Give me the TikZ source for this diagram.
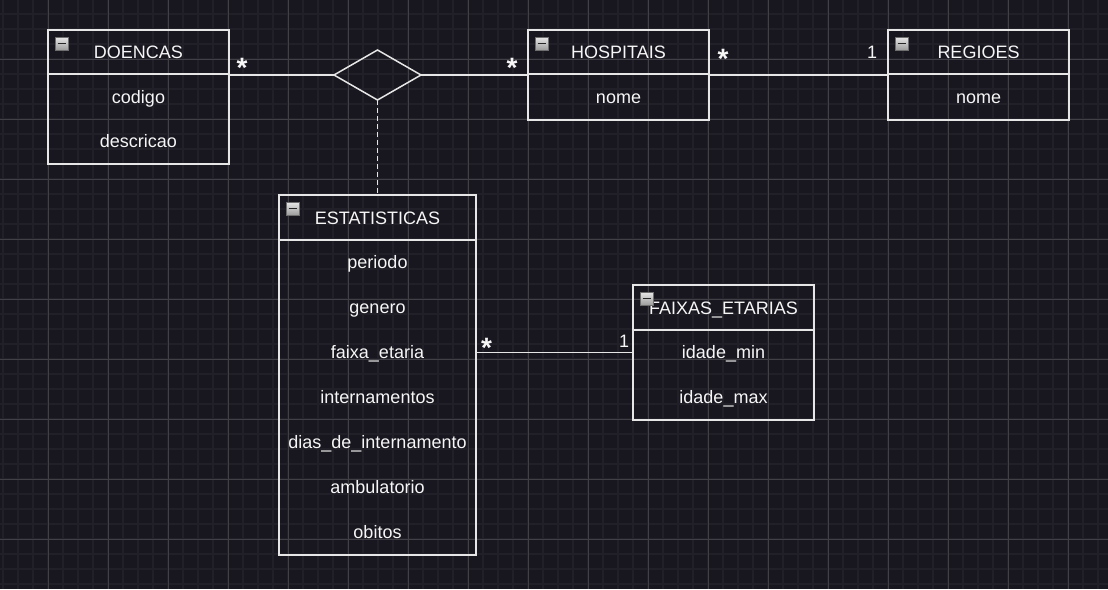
\documentclass[tikz,border=0pt]{standalone}
\usepackage{fontspec}
\setmainfont{Liberation Sans}
\usetikzlibrary{shapes.geometric}
\definecolor{bg}{HTML}{18161E}
\definecolor{gmin}{HTML}{211F27}
\definecolor{gmaj}{HTML}{424047}
\definecolor{ln}{HTML}{E6E6E6}
\definecolor{txt}{HTML}{F6F6F6}
\definecolor{icA}{HTML}{E8E8E8}
\definecolor{icB}{HTML}{9C9C9C}
\definecolor{icD}{HTML}{6E6E6E}
\begin{document}
\begin{tikzpicture}[x=1pt,y=-1pt,
  umlbox/.style={draw=ln,line width=1.6pt,rectangle,inner sep=0pt,outer sep=0pt,anchor=north west},
  hdrline/.style={draw=ln,line width=1.6pt},
  ttl/.style={anchor=base,inner sep=0pt,text=txt,font=\fontsize{18}{20}\selectfont},
  attr/.style={anchor=base,inner sep=0pt,text=txt,font=\fontsize{18}{20}\selectfont},
  mult/.style={anchor=base,inner sep=0pt,text=txt,font=\fontsize{18}{20}\selectfont},
  star/.style={anchor=base,inner sep=0pt,text=txt,font=\bfseries\fontsize{28}{30}\selectfont},
  conn/.style={draw=ln,line width=1.5pt},
  dashconn/.style={draw=ln,line width=1.5pt,dash pattern=on 5pt off 3pt},
  relshape/.style={draw=ln,line width=1.5pt,diamond,inner sep=0pt,outer sep=0pt,minimum width=87pt,minimum height=50pt,aspect=1.74},
  iconbox/.style={draw=icD,line width=0.8pt,top color=icA,bottom color=icB}
]
\fill[bg] (0,0) rectangle (1108,589);
\useasboundingbox (0,0) rectangle (1108,589);
% grid
\foreach \x in {3,18,...,1108} \draw[gmin,line width=2pt] (\x,0) -- (\x,589);
\foreach \y in {14,29,...,589} \draw[gmin,line width=2pt] (0,\y) -- (1108,\y);
\foreach \x in {48,108,...,1108} \draw[gmaj,line width=1pt] (\x,0) -- (\x,589);
\foreach \y in {59,119,...,589} \draw[gmaj,line width=1pt] (0,\y) -- (1108,\y);

% DOENCAS
\node[umlbox,minimum width=181pt,minimum height=134pt] (doencas) at (48,30) {};
\draw[hdrline] (48,74) -- (229,74);
\node[ttl] (doencasT) at (138.5,58) {DOENCAS};
\node[attr] (doencasA1) at (138.5,103) {codigo};
\node[attr] (doencasA2) at (138.5,147.5) {descricao};

% HOSPITAIS
\node[umlbox,minimum width=181pt,minimum height=90pt] (hosp) at (528,30) {};
\draw[hdrline] (528,74) -- (709,74);
\node[ttl] (hospT) at (618.5,58) {HOSPITAIS};
\node[attr] (hospA1) at (618.5,103) {nome};

% REGIOES
\node[umlbox,minimum width=181pt,minimum height=90pt] (reg) at (888,30) {};
\draw[hdrline] (888,74) -- (1069,74);
\node[ttl] (regT) at (978.5,58) {REGIOES};
\node[attr] (regA1) at (978.5,103) {nome};

% ESTATISTICAS
\node[umlbox,minimum width=197pt,minimum height=360pt] (estat) at (279,195) {};
\draw[hdrline] (279,240) -- (476,240);
\node[ttl] (estatT) at (377.5,224) {ESTATISTICAS};
\node[attr] (estatA1) at (377.5,268.5) {periodo};
\node[attr] (estatA2) at (377.5,313.5) {genero};
\node[attr] (estatA3) at (377.5,358.5) {faixa\_etaria};
\node[attr] (estatA4) at (377.5,403.5) {internamentos};
\node[attr] (estatA5) at (377.5,448.5) {dias\_de\_internamento};
\node[attr] (estatA6) at (377.5,493.5) {ambulatorio};
\node[attr] (estatA7) at (377.5,538.5) {obitos};

% FAIXAS_ETARIAS
\node[umlbox,minimum width=181pt,minimum height=135pt] (faixas) at (633,285) {};
\draw[hdrline] (633,330) -- (814,330);
\node[ttl] (faixasT) at (723.5,314) {FAIXAS\_ETARIAS};
\node[attr] (faixasA1) at (723.5,358.5) {idade\_min};
\node[attr] (faixasA2) at (723.5,403.5) {idade\_max};

% icons
\foreach \ix/\iy in {55/37,535/37,895/37,286/202,640/292}{
  \draw[iconbox] (\ix,\iy) rectangle ++(13,13);
  \draw[black!85,line width=1.8pt] (\ix+2.5,\iy+6.5) -- (\ix+10.5,\iy+6.5);
}

% relationship diamond
\node[relshape] (rel) at (377.5,75) {};

% connectors
\draw[conn] (doencas.north east |- rel.west) -- (rel.west);
\draw[conn] (rel.east) -- (hosp.north west |- rel.east);
\draw[dashconn] (rel.south) -- (estat.north);
\draw[conn] (hosp.north east |- rel.east) -- (reg.north west |- rel.east);
\draw[conn] (estat.east |- faixas.west) -- (faixas.west);

% multiplicities
\node[star] (m1) at (242,77) {*};
\node[star] (m2) at (512,77) {*};
\node[star] (m3) at (723,68.5) {*};
\node[mult] (m4) at (872,58) {1};
\node[star] (m5) at (486.5,357.5) {*};
\node[mult] (m6) at (624,347) {1};
\end{tikzpicture}
\end{document}
